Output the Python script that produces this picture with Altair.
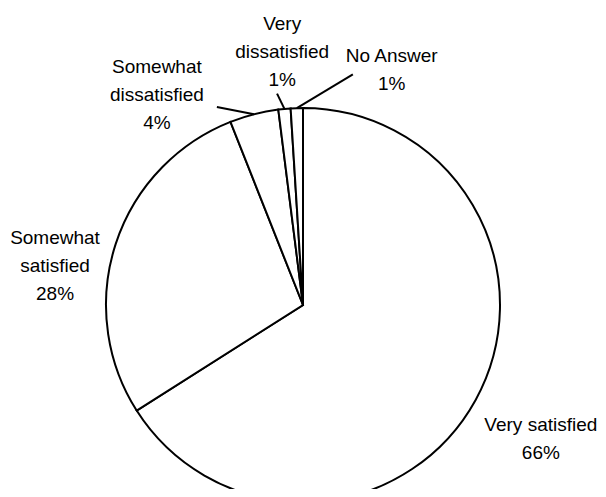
import math
import altair as alt
import pandas as pd

# ---- data ----
categories = ["Very satisfied", "Somewhat satisfied", "Somewhat dissatisfied",
              "Very dissatisfied", "No Answer"]
display_labels = ["Very satisfied", "Somewhat\nsatisfied", "Somewhat\ndissatisfied",
                  "Very\ndissatisfied", "No Answer"]
percents = [66, 28, 4, 1, 1]

# ---- layout (label placement, polar: degrees clockwise from 12 o'clock, px) ----
CX, CY, R = 295, 297, 197
LINE_H = 28
label_angle = [119.4, 278.9, 325.2, 355.3, 20.7]
label_radius = [273, 251, 256, 254, 251]
leader_on = [False, False, True, True, True]
leader_angle = [0, 0, 336.5, 353.0, 12.2]
leader_radius = [0, 0, 216, 213, 236]

FONT = "Liberation Sans"

total = sum(percents)
cum = 0
mid = []
for p in percents:
    mid.append((cum + p / 2) / total * 360)
    cum += p


def polar(a, r):
    t = math.radians(a)
    return CX + r * math.sin(t), CY - r * math.cos(t)


pie_df = pd.DataFrame({"category": categories, "pct": percents,
                       "idx": list(range(len(categories)))})

lab_rows = []
for lbl, p, a, r in zip(display_labels, percents, label_angle, label_radius):
    x, y = polar(a, r)
    txt = f"{lbl}\n{p}%"
    n = txt.count("\n") + 1
    lab_rows.append({"text": txt, "lx": x, "ly": y - (n - 1) * LINE_H / 2})
lab_df = pd.DataFrame(lab_rows)

lead_rows = []
for on, m, a, r in zip(leader_on, mid, leader_angle, leader_radius):
    if not on:
        continue
    x1, y1 = polar(m, R)
    x2, y2 = polar(a, r)
    lead_rows.append({"x1": x1, "y1": y1, "x2": x2, "y2": y2})
lead_df = pd.DataFrame(lead_rows)

pie = alt.Chart(pie_df).mark_arc(
    outerRadius=R, fill="white", stroke="black", strokeWidth=2
).encode(
    theta=alt.Theta("pct:Q", stack=True),
    order=alt.Order("idx:Q"),
    x=alt.value(CX),
    y=alt.value(CY),
)

labels = alt.Chart(lab_df).mark_text(
    font=FONT, fontSize=19, lineBreak="\n", lineHeight=LINE_H,
    align="center", baseline="middle", color="black"
).encode(
    x=alt.X("lx:Q", scale=None, axis=None),
    y=alt.Y("ly:Q", scale=None, axis=None),
    text="text:N",
)

leaders = alt.Chart(lead_df).mark_rule(color="black", strokeWidth=2).encode(
    x=alt.X("x1:Q", scale=None, axis=None),
    y=alt.Y("y1:Q", scale=None, axis=None),
    x2="x2:Q",
    y2="y2:Q",
)

chart = alt.layer(pie, leaders, labels).properties(
    width=590, height=481,
    autosize=alt.AutoSizeParams(type="none"),
    padding=0,
).configure_view(stroke=None)

chart.save("out.html", embed_options={"renderer": "svg", "actions": False})
